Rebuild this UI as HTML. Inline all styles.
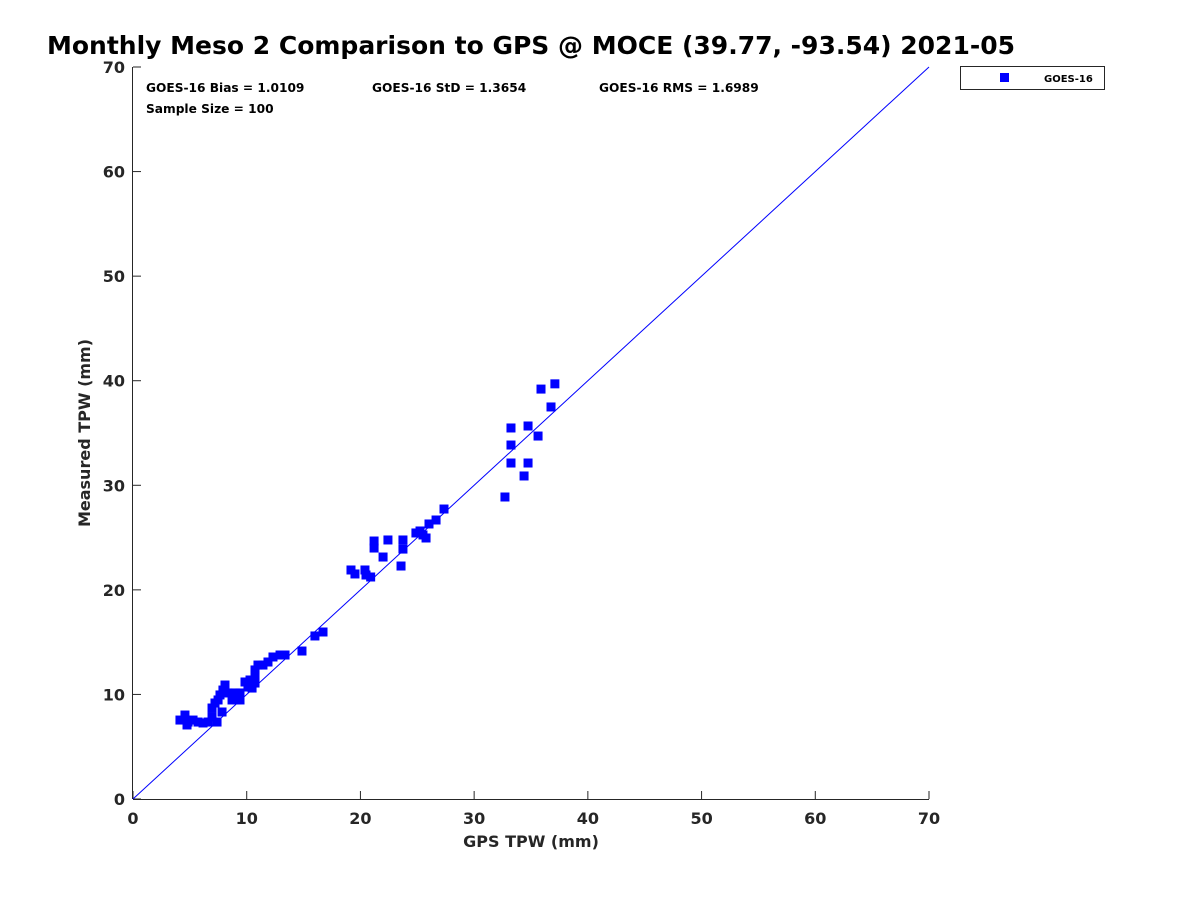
<!DOCTYPE html>
<html><head><meta charset="utf-8"><style>
body{margin:0;background:#fff}
svg text{font-family:"DejaVu Sans","Liberation Sans",sans-serif;font-weight:bold;fill:#262626}
</style></head><body>
<svg width="1200" height="900">
<text x="531" y="54" font-size="25" text-anchor="middle" style="fill:#000">Monthly Meso 2 Comparison to GPS @ MOCE (39.77, -93.54) 2021-05</text>
<g id="axes"></g>
<g id="pts"></g>
<text x="146" y="92" font-size="12.2" style="fill:#000">GOES-16 Bias = 1.0109</text>
<text x="372" y="92" font-size="12.2" style="fill:#000">GOES-16 StD = 1.3654</text>
<text x="599" y="92" font-size="12.2" style="fill:#000">GOES-16 RMS = 1.6989</text>
<text x="146" y="113" font-size="12.2" style="fill:#000">Sample Size = 100</text>
<text x="531" y="847" font-size="16" text-anchor="middle">GPS TPW (mm)</text>
<text transform="translate(90,433) rotate(-90)" font-size="16" text-anchor="middle">Measured TPW (mm)</text>
<g>
<rect x="960.5" y="66.5" width="144" height="23" fill="#fff" stroke="#262626" stroke-width="1"/>
<rect x="1000" y="73" width="9" height="9" fill="#0000ff"/>
<text x="1044" y="82" font-size="10" style="fill:#000">GOES-16</text>
</g>
</svg>
<script>
const xTicks=[0,10,20,30,40,50,60,70];
const yTicks=[0,10,20,30,40,50,60,70];
const gpsX=[35.88,37.1,36.76,35.62,34.74,33.24,33.24,33.24,34.74,34.39,32.71,
19.17,19.52,20.4,20.49,20.9,21.2,21.2,21.99,22.42,23.57,23.74,23.74,24.88,25.24,25.5,25.77,26.03,26.65,27.35,16.71,16.0,14.86,
13.37,12.93,12.31,11.87,11.43,10.99,10.73,10.73,10.29,10.73,10.11,9.85,10.47,8.09,7.91,7.65,8.35,8.97,9.41,9.15,8.71,7.48,7.21,6.95,7.83,6.95,7.39,6.6,6.16,5.72,5.28,4.75,4.57,4.13,4.84,9.41];
const measY=[39.2,39.7,37.49,34.71,35.67,35.48,33.85,32.13,32.13,30.89,28.88,
21.9,21.52,21.9,21.42,21.23,24.67,24.0,23.14,24.77,22.28,23.9,24.77,25.44,25.63,25.25,24.96,26.3,26.68,27.73,15.97,15.59,14.15,
13.77,13.77,13.58,13.1,12.81,12.81,12.34,11.86,11.38,11.09,10.71,11.19,10.61,10.9,10.42,9.95,10.14,10.14,10.14,9.47,9.47,9.47,9.18,8.7,8.32,7.84,7.36,7.36,7.27,7.36,7.55,7.08,8.03,7.55,7.36,9.47];
const X0=133,X1=929,Y0=799,Y1=67,MAX=70;
const sx=v=>X0+(X1-X0)*v/MAX, sy=v=>Y0-(Y0-Y1)*v/MAX;
const NS='http://www.w3.org/2000/svg';
function mk(t,a,p){const e=document.createElementNS(NS,t);for(const k in a)e.setAttribute(k,a[k]);p.appendChild(e);return e;}
const ax=document.getElementById('axes');
let l=mk('line',{x1:X0,y1:Y0+.5,x2:X1,y2:Y0+.5,stroke:'#262626'},ax);


l=mk('line',{x1:X0-.5,y1:Y0,x2:X0-.5,y2:Y1,stroke:'#262626'},ax);


xTicks.forEach(v=>{
 const t=mk('line',{x1:sx(v),y1:Y0,x2:sx(v),y2:Y0-8,stroke:'#262626'},ax);
 
 
 const tx=mk('text',{x:sx(v),y:Y0+25,'font-size':16,'text-anchor':'middle'},ax);tx.textContent=v;
 
 
});
yTicks.forEach(v=>{
 const t=mk('line',{x1:X0,y1:sy(v),x2:X0+8,y2:sy(v),stroke:'#262626'},ax);
 
 
 const tx=mk('text',{x:X0-8,y:sy(v)+6,'font-size':16,'text-anchor':'end'},ax);tx.textContent=v;
 
 
});
l=mk('line',{x1:sx(0),y1:sy(0),x2:sx(70),y2:sy(70),stroke:'#0000ff','stroke-width':1},ax);


const pg=document.getElementById('pts');
gpsX.forEach((v,i)=>{
 const r=mk('rect',{x:sx(v)-4.5,y:sy(measY[i])-4.5,width:9,height:9,fill:'#0000ff'},pg);
 
 
});
</script>
</body></html>
